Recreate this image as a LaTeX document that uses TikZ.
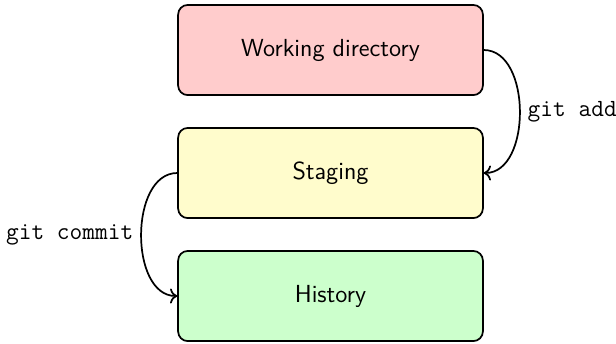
\documentclass[tikz,border=0pt]{standalone}
\usetikzlibrary{arrows.meta}
\begin{document}
\begin{tikzpicture}[x=0.4659pt,y=-0.4659pt,
  stage/.style={draw,thick,rounded corners=4.5pt,minimum width=142pt,minimum height=42pt,font=\sffamily\fontsize{11.5}{14}\selectfont},
  flow/.style={->,thick,looseness=1},
  cmd/.style={font=\ttfamily\fontsize{11.5}{14}\selectfont}]
\useasboundingbox (0,0) rectangle (616,343);
\node[stage,fill=red!20] (wd) at (330.5,50) {Working directory};
\node[stage,fill=yellow!20] (st) at (330.5,173) {Staging};
\node[stage,fill=green!20] (hi) at (330.5,296) {History};
\draw[flow] (wd.east) to[out=0,in=0] node[cmd,right] {git add} (st.east);
\draw[flow] (st.west) to[out=180,in=180] node[cmd,left] {git commit} (hi.west);
\end{tikzpicture}
\end{document}
